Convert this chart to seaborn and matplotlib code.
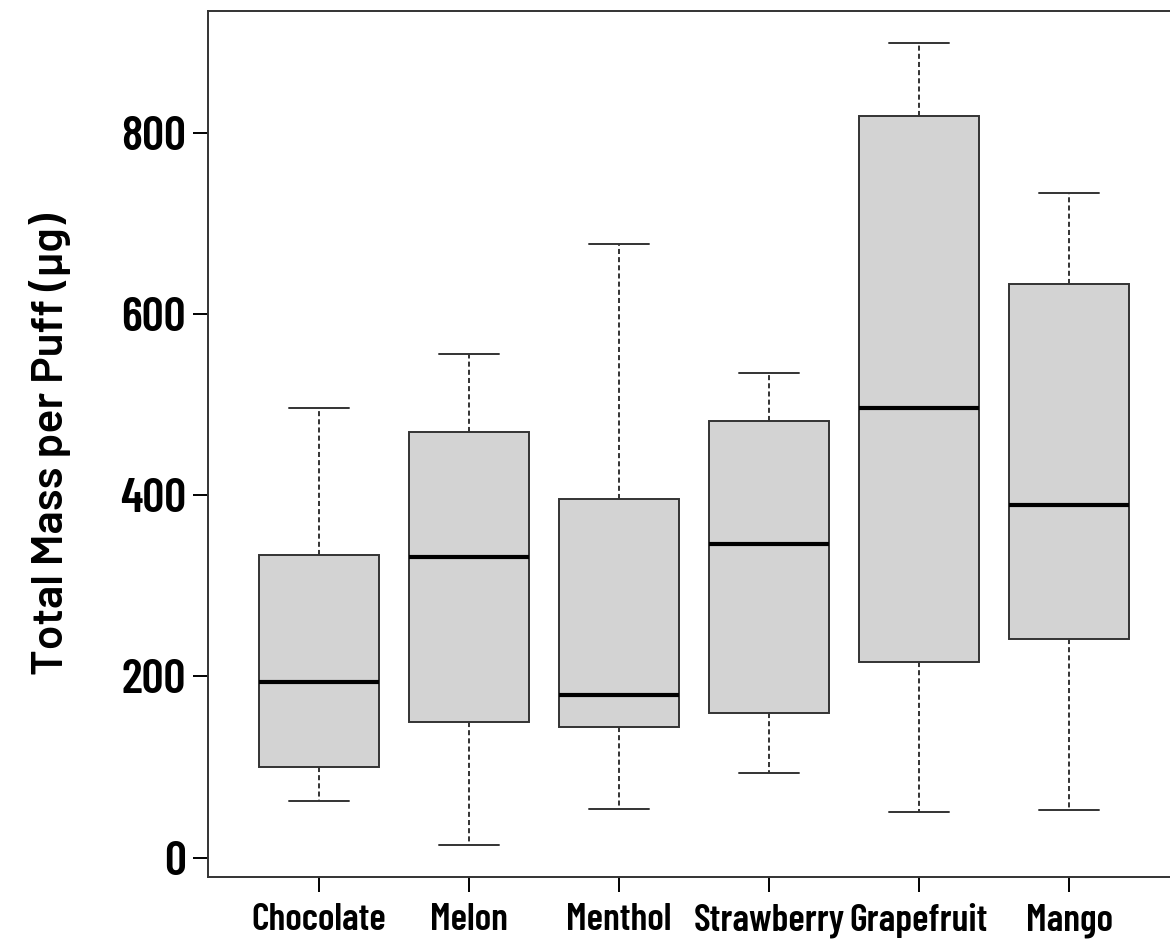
import pandas as pd
import matplotlib.pyplot as plt
import seaborn as sns

flavours = ['Chocolate', 'Melon', 'Menthol', 'Strawberry', 'Grapefruit', 'Mango']
chocolate = [63, 100, 194, 334, 496]
melon = [14, 150, 332, 470, 556]
menthol = [54, 144, 179, 396, 677]
strawberry = [93, 160, 346, 482, 535]
grapefruit = [50, 216, 496, 819, 899]
mango = [53, 241, 389, 633, 733]
y_ticks = [0, 200, 400, 600, 800]

values = [chocolate, melon, menthol, strawberry, grapefruit, mango]
df = pd.DataFrame({
    'Flavour': [f for f, v in zip(flavours, values) for _ in v],
    'Mass': [x for v in values for x in v],
})

sns.set_theme(style='white')
plt.rcParams['font.family'] = ['Barlow Condensed', 'DejaVu Sans']
plt.rcParams['font.weight'] = 600
plt.rcParams['text.color'] = 'black'
plt.rcParams['axes.labelcolor'] = 'black'
plt.rcParams['xtick.color'] = 'black'
plt.rcParams['ytick.color'] = 'black'

fig = plt.figure(figsize=(11.7, 9.42), dpi=100)
ax = fig.add_axes([208 / 1170, 65 / 942, 972 / 1170, 866 / 942])

line_col = '#333333'
# whis=(0, 100) so the whiskers run to min / max like the R plot
sns.boxplot(data=df, x='Flavour', y='Mass', order=flavours, whis=(0, 100),
            width=0.8, color='#d3d3d3', saturation=1, linecolor=line_col,
            linewidth=1.4, ax=ax,
            boxprops=dict(edgecolor=line_col, linewidth=1.4),
            whiskerprops=dict(linestyle=(0, (2.6, 1.6)), linewidth=1.4, color=line_col),
            capprops=dict(linewidth=1.4, color=line_col),
            medianprops=dict(color='black', linewidth=3))

ax.set_xlim(-0.74, 5.74)
ax.set_ylim(-21.4, 934.4)
ax.set_yticks(y_ticks)
ax.set_xlabel('')
ax.set_ylabel('Total Mass per Puff (µg)', fontsize=32, fontweight=600, labelpad=35,
              family=['Barlow', 'DejaVu Sans'])
ax.tick_params(axis='both', length=11, width=1.4, direction='out',
               left=True, bottom=True)
ax.tick_params(axis='y', labelsize=35, pad=5)
ax.tick_params(axis='x', labelsize=27.5, pad=8)
for lab in ax.get_xticklabels() + ax.get_yticklabels():
    lab.set_fontweight(600)
for s in ax.spines.values():
    s.set_color(line_col)
    s.set_linewidth(1.4)

fig.savefig('out.png', dpi=100)
